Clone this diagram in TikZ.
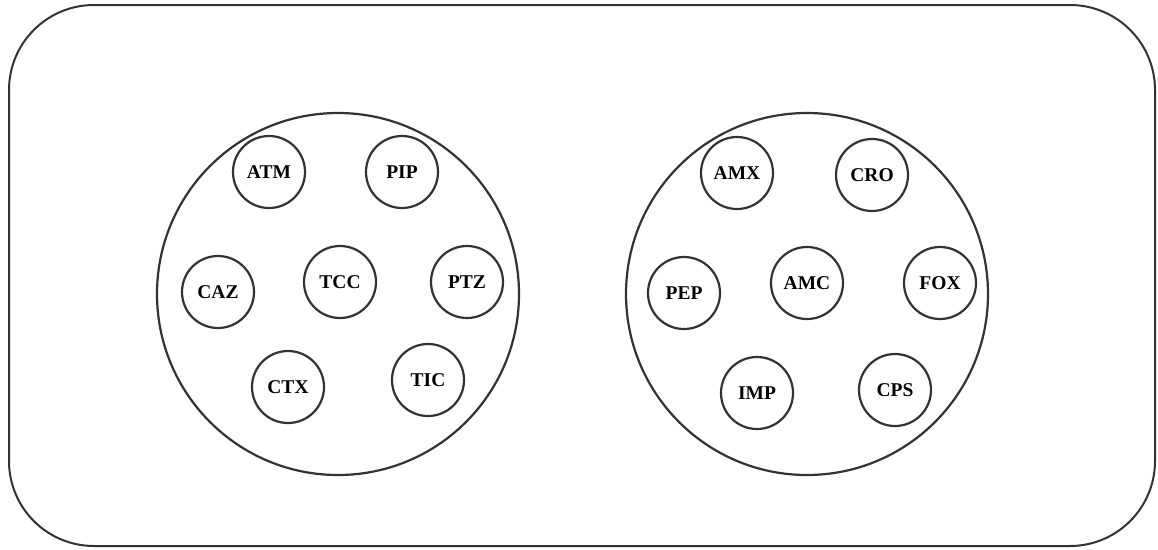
\documentclass[tikz,border=0pt]{standalone}
\usepackage{fontspec}
\setmainfont{Liberation Serif}
\begin{document}
\begin{tikzpicture}[x=1pt,y=-1pt,
  big/.style={draw=black!80,line width=2.2pt,circle,minimum size=362pt,inner sep=0pt},
  drug/.style={draw=black!80,line width=2.2pt,circle,minimum size=72pt,inner sep=0pt,font=\fontsize{19.5}{22}\selectfont\bfseries}]
\useasboundingbox (0,0) rectangle (1158,549);
\node[draw=black!80,line width=2pt,rounded corners=85pt,minimum width=1146pt,minimum height=541pt,inner sep=0pt] (frame) at (582,275.5) {};
\node[big] (g1) at (338,294) {};
\node[big] (g2) at (807,294) {};
\node[drug] (atm) at (269,172) {ATM};
\node[drug] (pip) at (402,172) {PIP};
\node[drug] (caz) at (218,292) {CAZ};
\node[drug] (tcc) at (340,282) {TCC};
\node[drug] (ptz) at (467,282) {PTZ};
\node[drug] (ctx) at (288,387) {CTX};
\node[drug] (tic) at (428,380) {TIC};
\node[drug] (amx) at (737,173) {AMX};
\node[drug] (cro) at (872,175) {CRO};
\node[drug] (pep) at (684,293) {PEP};
\node[drug] (amc) at (807,283) {AMC};
\node[drug] (fox) at (940,283) {FOX};
\node[drug] (imp) at (757,393) {IMP};
\node[drug] (cps) at (895,390) {CPS};
\end{tikzpicture}
\end{document}
